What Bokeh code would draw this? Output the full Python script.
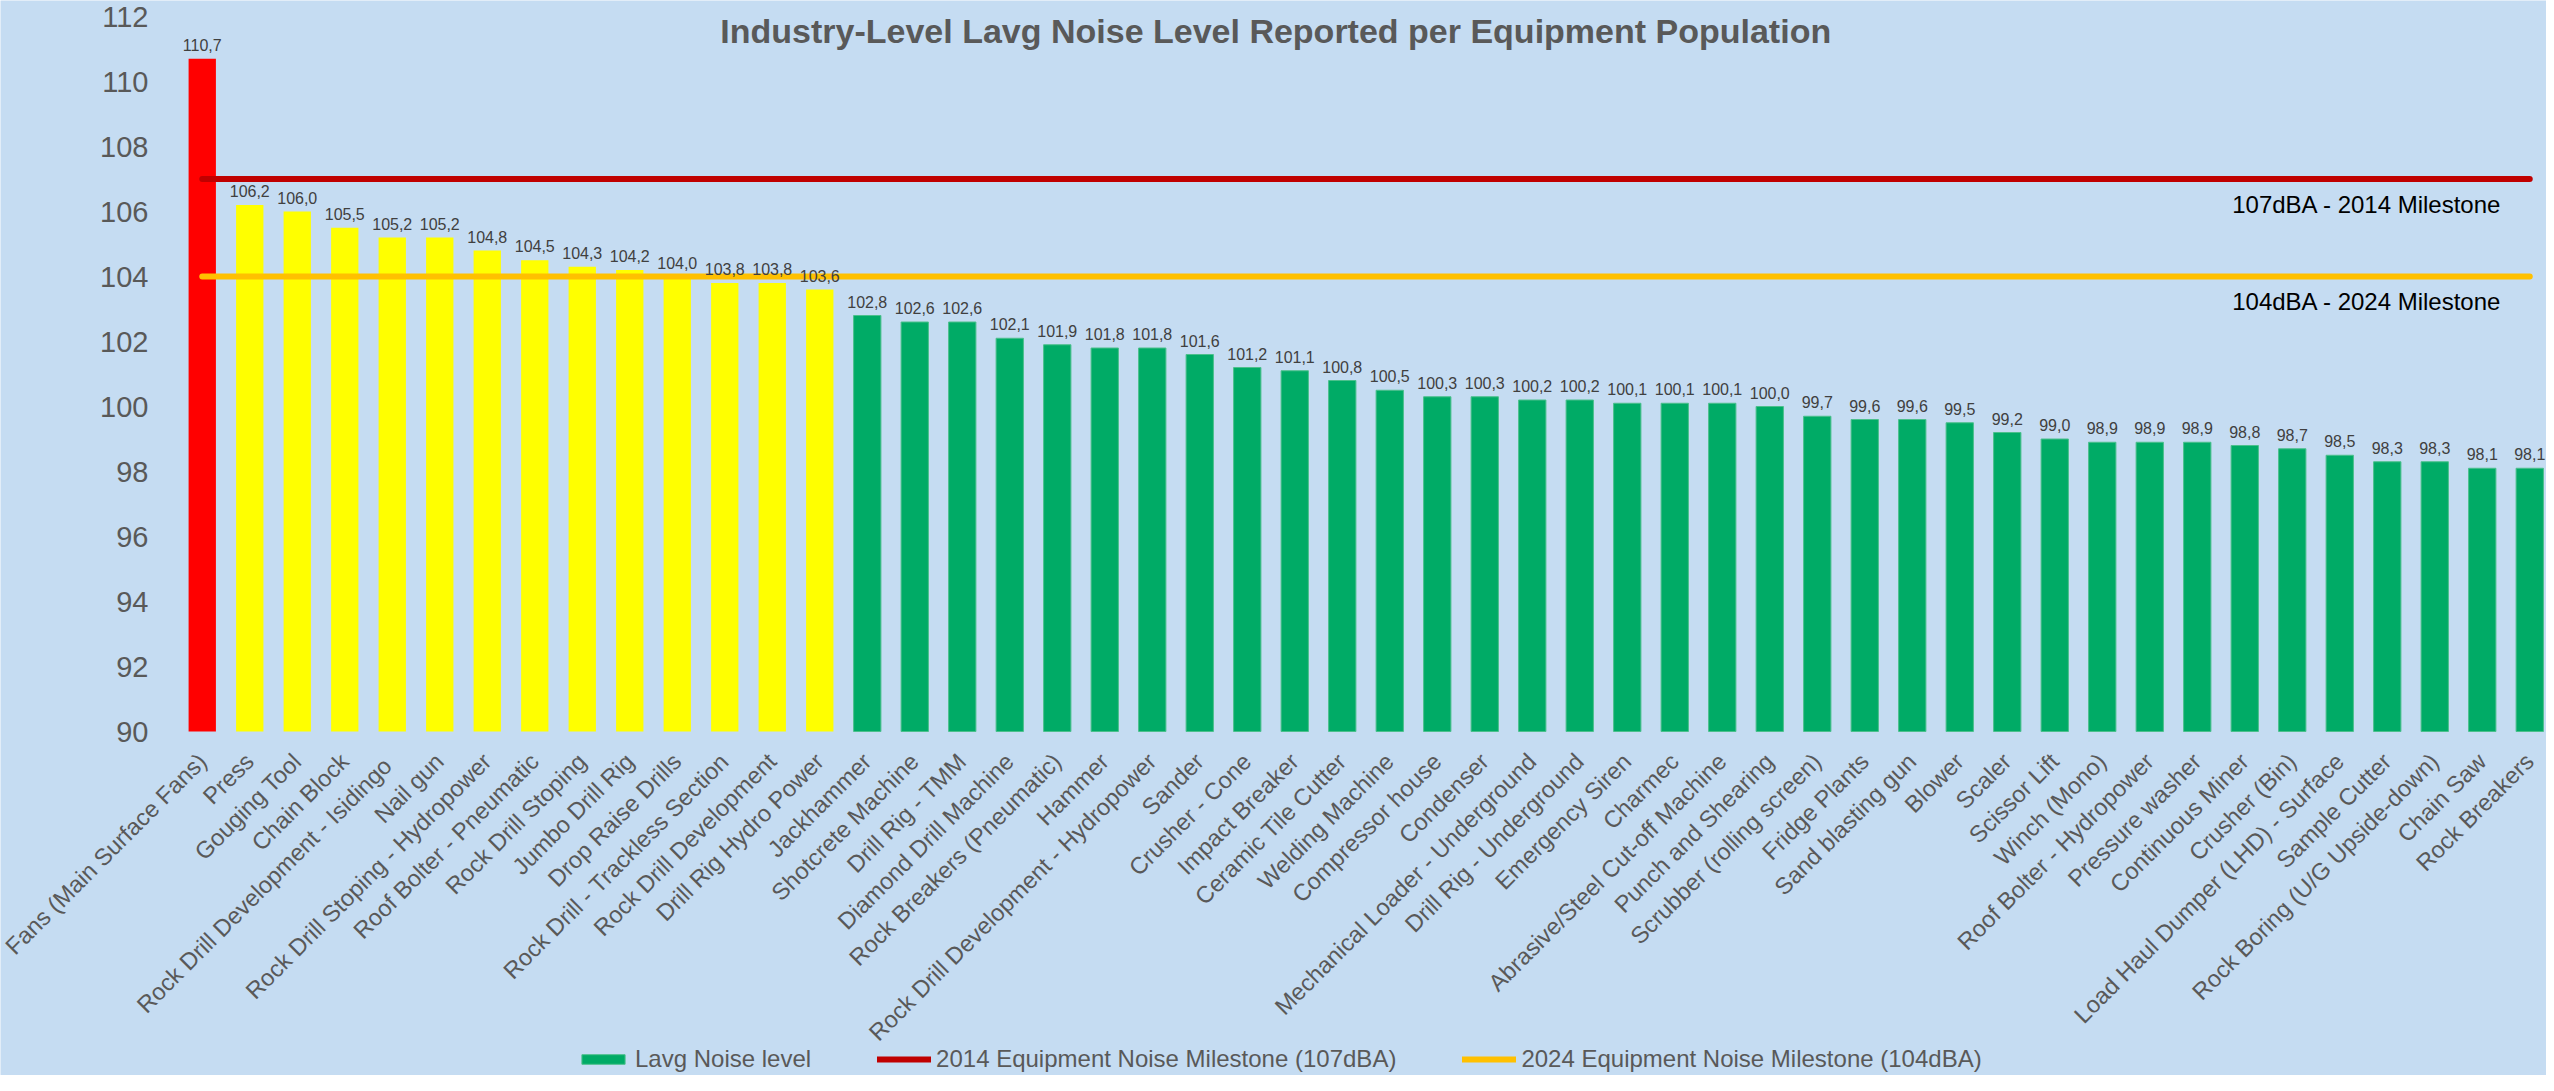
import math
from bokeh.plotting import figure
from bokeh.models import Range1d, FixedTicker, Legend, LegendItem, Label, ColumnDataSource
from bokeh.core.properties import value
from bokeh.embed import file_html
from bokeh.resources import INLINE

# ---------------- data ----------------
equipment = [
    "Fans (Main Surface Fans)", "Press", "Gouging Tool", "Chain Block",
    "Rock Drill Development  - Isidingo", "Nail gun", "Rock Drill Stoping - Hydropower",
    "Roof Bolter - Pneumatic", "Rock Drill Stoping", "Jumbo Drill Rig", "Drop Raise Drills",
    "Rock Drill - Trackless Section", "Rock Drill Development", "Drill Rig Hydro Power",
    "Jackhammer", "Shotcrete Machine", "Drill Rig - TMM", "Diamond Drill Machine",
    "Rock Breakers (Pneumatic)", "Hammer", "Rock Drill Development - Hydropower", "Sander",
    "Crusher - Cone", "Impact Breaker", "Ceramic Tile Cutter", "Welding Machine",
    "Compressor house", "Condenser", "Mechanical Loader - Underground",
    "Drill Rig - Underground", "Emergency Siren", "Charmec",
    "Abrasive/Steel Cut-off Machine", "Punch and Shearing", "Scrubber (rolling screen)",
    "Fridge Plants", "Sand blasting gun", "Blower", "Scaler", "Scissor Lift", "Winch (Mono)",
    "Roof Bolter - Hydropower", "Pressure washer", "Continuous Miner", "Crusher (Bin)",
    "Load Haul Dumper (LHD) - Surface", "Sample Cutter", "Rock Boring (U/G Upside-down)",
    "Chain Saw", "Rock Breakers",
]
lavg = [
    110.7, 106.2, 106.0, 105.5, 105.2, 105.2, 104.8, 104.5, 104.3, 104.2, 104.0,
    103.8, 103.8, 103.6, 102.8, 102.6, 102.6, 102.1, 101.9, 101.8, 101.8, 101.6,
    101.2, 101.1, 100.8, 100.5, 100.3, 100.3, 100.2, 100.2, 100.1, 100.1, 100.1,
    100.0, 99.7, 99.6, 99.6, 99.5, 99.2, 99.0, 98.9, 98.9, 98.9, 98.8, 98.7,
    98.5, 98.3, 98.3, 98.1, 98.1,
]
milestone_2014 = 107
milestone_2024 = 104
y_ticks = [90, 92, 94, 96, 98, 100, 102, 104, 106, 108, 110, 112]
title_text = "Industry-Level Lavg Noise Level Reported per Equipment Population"
series_names = ["Lavg Noise level",
                "2014 Equipment Noise Milestone (107dBA)",
                "2024 Equipment Noise Milestone (104dBA)"]
milestone_texts = ["107dBA - 2014 Milestone", "104dBA - 2024 Milestone"]

# ---------------- style ----------------
FONT = "Liberation Sans"
BG = "#C5DCF2"
RED_BAR, YEL_BAR, GRN_BAR = "#FF0000", "#FFFF00", "#00AB66"
RED_LINE, YEL_LINE = "#C00000", "#FFC000"
GREY = "#595959"

n = len(equipment)
idx = list(range(n))
labels = [f"{v:.1f}".replace(".", ",") for v in lavg]
y_base = y_ticks[0]

def tier(v):
    if v > milestone_2014:
        return "red"
    if v >= milestone_2024 - 0.5:
        return "yellow"
    return "green"

tiers = [tier(v) for v in lavg]

def subset(t):
    ii = [i for i in idx if tiers[i] == t]
    return ColumnDataSource(dict(x=ii, top=[lavg[i] for i in ii]))

# Frame covers the whole canvas; both axes are drawn at fixed data locations
# (x axis along y=90, y axis along the left edge of the category band).
W, H = 2546, 1075
top_pad_px = 16
px_per_unit_y = 32.5
px_per_cat = 47.5
left_pad_px = 178
y_max = y_ticks[-1] + top_pad_px / px_per_unit_y
y_min = y_max - H / px_per_unit_y
x_left = -0.5 - left_pad_px / px_per_cat
x_right = x_left + W / px_per_cat

p = figure(width=W, height=H,
           x_range=Range1d(x_left, x_right), y_range=Range1d(y_min, y_max),
           output_backend="svg", toolbar_location=None,
           min_border_left=0, min_border_right=0, min_border_top=0, min_border_bottom=0)
p.background_fill_color = BG
p.border_fill_color = BG
p.outline_line_color = None
p.grid.visible = False

bar_w = 0.575
r_red = p.vbar(x="x", top="top", bottom=y_base, width=bar_w, source=subset("red"),
               fill_color=RED_BAR, line_color=None)
r_yel = p.vbar(x="x", top="top", bottom=y_base, width=bar_w, source=subset("yellow"),
               fill_color=YEL_BAR, line_color=None)
r_grn = p.vbar(x="x", top="top", bottom=y_base, width=bar_w, source=subset("green"),
               fill_color=GRN_BAR, line_color="#4CC08C", line_width=1)

l14 = p.line(x=[idx[0], idx[-1]], y=[milestone_2014] * 2, line_color=RED_LINE,
             line_width=6, line_cap="round")
l24 = p.line(x=[idx[0], idx[-1]], y=[milestone_2024] * 2, line_color=YEL_LINE,
             line_width=6, line_cap="round")

p.text(x=idx, y=lavg, text=labels, text_align="center", text_baseline="alphabetic",
       y_offset=-14, text_font_size="16px", text_color="#404040", text_font=value(FONT))

for val, txt in zip([milestone_2014, milestone_2024], milestone_texts):
    p.add_layout(Label(x=48.41, y=val, y_offset=-25, text=txt, text_align="right",
                       text_baseline="middle", text_font_size="24px", text_color="#000000",
                       text_font=FONT))

p.add_layout(Label(x=22.6, y=y_ticks[-1], y_offset=-14, text=title_text, text_align="center",
                   text_baseline="alphabetic", text_font_size="34px", text_font_style="bold",
                   text_color=GREY, text_font=FONT))

# axes
xa = p.xaxis[0]
xa.fixed_location = y_base
xa.ticker = FixedTicker(ticks=idx)
xa.major_label_overrides = {i: name for i, name in zip(idx, equipment)}
xa.major_label_orientation = math.pi / 4
xa.axis_line_color = None
xa.major_tick_line_color = None
xa.minor_tick_line_color = None
xa.major_label_text_font = FONT
xa.major_label_text_font_size = "23.6px"
xa.major_label_text_color = GREY
xa.major_label_standoff = 20

ya = p.yaxis[0]
ya.fixed_location = -0.5
ya.ticker = FixedTicker(ticks=y_ticks)
ya.axis_line_color = None
ya.major_tick_line_color = None
ya.minor_tick_line_color = None
ya.major_label_text_font = FONT
ya.major_label_text_font_size = "29px"
ya.major_label_text_color = GREY
ya.major_label_standoff = 24

legend = Legend(items=[LegendItem(label=series_names[0], renderers=[r_grn]),
                       LegendItem(label=series_names[1], renderers=[l14]),
                       LegendItem(label=series_names[2], renderers=[l24])],
                orientation="horizontal", location=(576, 2),
                background_fill_alpha=0, border_line_color=None,
                label_text_font_size="24px", label_text_color=GREY, label_text_font=FONT,
                glyph_width=54, glyph_height=12, spacing=66, padding=0, margin=0,
                label_standoff=5)
p.add_layout(legend, "center")

open("out.html", "w").write(file_html(p, INLINE))
